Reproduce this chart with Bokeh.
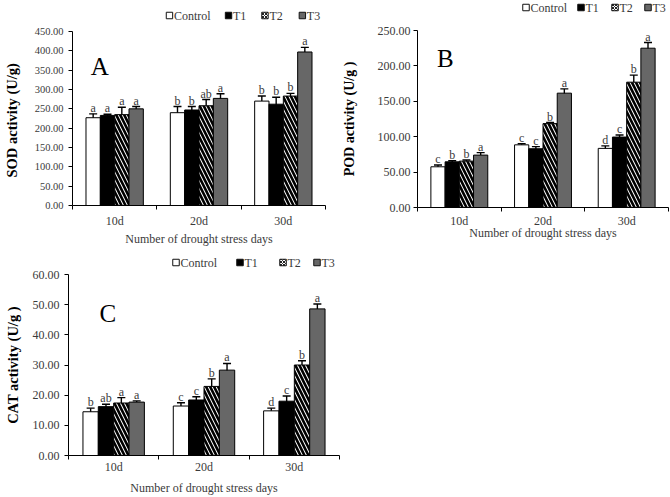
from bokeh.plotting import figure
from bokeh.models import (Range1d, FixedTicker, NumeralTickFormatter, Whisker, TeeHead,
                          ColumnDataSource, Label)
from bokeh.layouts import column, row
from bokeh.core.properties import value
from bokeh.embed import file_html
from bokeh.resources import INLINE

# ---------------- data ----------------
days = ["10d", "20d", "30d"]
treatments = ["Control", "T1", "T2", "T3"]

sod_control = [227, 240, 270]
sod_t1 = [233, 247, 262]
sod_t2 = [235, 258, 283]
sod_t3 = [250, 277, 397]
sod_control_err = [10, 16, 13]
sod_t1_err = [3, 9, 18]
sod_t2_err = [19, 16, 7]
sod_t3_err = [6, 12, 12]
sod_control_sig = ["a", "b", "b"]
sod_t1_sig = ["a", "b", "b"]
sod_t2_sig = ["a", "ab", "b"]
sod_t3_sig = ["a", "a", "a"]
sod_ticks = [0, 50, 100, 150, 200, 250, 300, 350, 400, 450]

pod_control = [57.5, 88.5, 83.5]
pod_t1 = [64.5, 83.0, 99.5]
pod_t2 = [65.5, 118.5, 177.0]
pod_t3 = [74.0, 161.5, 225.0]
pod_control_err = [2.5, 1.5, 3.5]
pod_t1_err = [1.5, 3.0, 3.0]
pod_t2_err = [1.5, 1.5, 10.0]
pod_t3_err = [3.5, 6.0, 8.0]
pod_control_sig = ["c", "c", "d"]
pod_t1_sig = ["b", "c", "c"]
pod_t2_sig = ["b", "b", "b"]
pod_t3_sig = ["a", "a", "a"]
pod_ticks = [0, 50, 100, 150, 200, 250]

cat_control = [14.5, 16.4, 14.8]
cat_t1 = [16.2, 18.4, 18.0]
cat_t2 = [17.4, 22.9, 30.0]
cat_t3 = [17.7, 28.3, 48.6]
cat_control_err = [1.2, 1.1, 0.9]
cat_t1_err = [0.8, 1.1, 1.7]
cat_t2_err = [1.8, 2.5, 1.4]
cat_t3_err = [0.4, 2.2, 1.6]
cat_control_sig = ["b", "c", "d"]
cat_t1_sig = ["ab", "c", "c"]
cat_t2_sig = ["a", "b", "b"]
cat_t3_sig = ["a", "a", "a"]
cat_ticks = [0, 10, 20, 30, 40, 50, 60]

x_title = "Number of drought stress days"

# ---------------- styling ----------------
FONT = "Liberation Serif"
TXT = "#3a3a3a"
BAR_W = 0.17
styles = [
    dict(fill_color="white", hatch_pattern=None),
    dict(fill_color="black", hatch_pattern=None),
    dict(fill_color="white", hatch_pattern="\\", hatch_color="black",
         hatch_weight=2.6, hatch_scale=8),
    dict(fill_color="#676767", hatch_pattern=None),
]
legend_styles = [
    dict(fill_color="white"),
    dict(fill_color="black"),
    dict(fill_color="white", hatch_pattern="x", hatch_color="#222222",
         hatch_weight=1, hatch_scale=3),
    dict(fill_color="#676767"),
]


def bar_kw(k):
    st = styles[k]
    kw = dict(fill_color=st["fill_color"], line_color="black", line_width=1)
    if st["hatch_pattern"]:
        kw.update(hatch_pattern=st["hatch_pattern"], hatch_color=st["hatch_color"],
                  hatch_weight=st["hatch_weight"], hatch_scale=st["hatch_scale"])
    return kw


def legend_strip(W, H, x0, x1, sq_left, yc):
    """A key drawn in a small strip; its frame lines up with the panel's frame,
    so its x range is given in the panel's pixel coordinates."""
    s = figure(width=W, height=H, x_range=Range1d(x0, x1), y_range=Range1d(0, H),
               output_backend="svg", toolbar_location=None,
               x_axis_type=None, y_axis_type=None,
               min_border_left=0, min_border_right=0,
               min_border_top=0, min_border_bottom=0)
    s.outline_line_color = None
    s.background_fill_color = "white"
    s.border_fill_color = "white"
    for k, name in enumerate(treatments):
        xl = sq_left[k]
        s.rect(x=[xl + 3.5], y=[yc], width=6.5, height=6.5,
               line_color="#111111", line_width=1, **legend_styles[k])
        s.text(x=[xl + 8], y=[yc], text=[name], text_align="left",
               text_baseline="middle", text_font=value(FONT),
               text_font_size="12px", text_color=TXT)
    return s


def make_panel(series, errs, sigs, ticks, ylabel, letter, letter_pos, geom):
    (W, H, bl, br, bt, bb, xlab_standoff, xtitle_standoff, ylab_standoff,
     ytitle_standoff, tick_fs, ytitle_fs) = geom
    p = figure(width=W, height=H, x_range=Range1d(0, len(days)),
               y_range=Range1d(ticks[0], ticks[-1]),
               output_backend="svg", toolbar_location=None,
               min_border_left=bl, min_border_right=br,
               min_border_top=bt, min_border_bottom=bb)
    p.outline_line_color = None
    p.grid.visible = False
    p.background_fill_color = "white"
    p.border_fill_color = "white"

    # x axis: labels at category centres, ticks at category boundaries
    xa = p.xaxis[0]
    xa.ticker = FixedTicker(ticks=[i + 0.5 for i in range(len(days))],
                            minor_ticks=list(range(len(days) + 1)))
    xa.major_label_overrides = {i + 0.5: d for i, d in enumerate(days)}
    xa.major_tick_out = 0
    xa.major_tick_in = 0
    xa.minor_tick_out = 4
    xa.minor_tick_in = 0
    xa.minor_tick_line_color = "black"
    xa.axis_line_color = "black"
    xa.major_label_text_font = FONT
    xa.major_label_text_font_size = "12px"
    xa.major_label_text_color = TXT
    xa.major_label_standoff = xlab_standoff
    xa.axis_label = x_title
    xa.axis_label_text_font = FONT
    xa.axis_label_text_font_size = "12px"
    xa.axis_label_text_font_style = "normal"
    xa.axis_label_text_color = TXT
    xa.axis_label_standoff = xtitle_standoff

    ya = p.yaxis[0]
    ya.ticker = FixedTicker(ticks=ticks, minor_ticks=[])
    ya.formatter = NumeralTickFormatter(format="0.00")
    ya.major_tick_out = 4
    ya.major_tick_in = 0
    ya.minor_tick_out = 0
    ya.minor_tick_in = 0
    ya.axis_line_color = "black"
    ya.major_tick_line_color = "black"
    ya.major_label_text_font = FONT
    ya.major_label_text_font_size = tick_fs
    ya.major_label_text_color = TXT
    ya.major_label_standoff = ylab_standoff
    ya.axis_label = ylabel
    ya.axis_label_text_font = FONT
    ya.axis_label_text_font_size = ytitle_fs
    ya.axis_label_text_font_style = "bold"
    ya.axis_label_text_color = "black"
    ya.axis_label_standoff = ytitle_standoff

    for k, name in enumerate(treatments):
        xs = [i + 0.5 + (k - 1.5) * BAR_W for i in range(len(days))]
        vals = series[k]
        e = errs[k]
        src = ColumnDataSource(dict(
            x=xs, top=vals,
            upper=[v + d for v, d in zip(vals, e)],
            lower=[v - d for v, d in zip(vals, e)],
            sig=sigs[k]))
        p.vbar(x="x", top="top", bottom=0, width=BAR_W, source=src, **bar_kw(k))
        w = Whisker(source=src, base="x", upper="upper", lower="lower",
                    line_color="black", line_width=1.4,
                    upper_head=TeeHead(size=8, line_width=1.4, line_color="black"),
                    lower_head=TeeHead(size=8, line_width=1.4, line_color="black"))
        p.add_layout(w)
        p.text(x="x", y="upper", text="sig", source=src, text_align="center",
               text_baseline="alphabetic", y_offset=-6,
               text_font=value(FONT), text_font_size="12px", text_color=TXT)

    p.add_layout(Label(x=letter_pos[0], y=letter_pos[1], text=letter,
                       text_font=FONT, text_font_size="25px", text_color="black",
                       text_baseline="alphabetic"))
    return p


sA = legend_strip(335, 24, 68, 325, [163, 223, 260, 298], 9)
pA = make_panel([sod_control, sod_t1, sod_t2, sod_t3],
                [sod_control_err, sod_t1_err, sod_t2_err, sod_t3_err],
                [sod_control_sig, sod_t1_sig, sod_t2_sig, sod_t3_sig],
                sod_ticks, "SOD  activity (U/g)", "A", (0.215, 360),
                (335, 224, 68, 10, 7, 43, 4, 1, 5, 12, "10.5px", "14.5px"))

sB = legend_strip(335, 22, 82, 333, [187, 242, 276, 309], 15)
pB = make_panel([pod_control, pod_t1, pod_t2, pod_t3],
                [pod_control_err, pod_t1_err, pod_t2_err, pod_t3_err],
                [pod_control_sig, pod_t1_sig, pod_t2_sig, pod_t3_sig],
                pod_ticks, "POD activity (U/g )", "B", (0.233, 210),
                (335, 226, 82, 2, 8, 41, 2, -5, 3, 18, "12px", "14px"))

sC = legend_strip(360, 20, 68, 339, [172, 236, 279, 313], 6)
pC = make_panel([cat_control, cat_t1, cat_t2, cat_t3],
                [cat_control_err, cat_t1_err, cat_t2_err, cat_t3_err],
                [cat_control_sig, cat_t1_sig, cat_t2_sig, cat_t3_sig],
                cat_ticks, "CAT activity (U/g )", "C", (0.343, 47.2),
                (360, 229, 68, 21, 6, 42, 0, 4, 5, 9, "12px", "14.5px"))

layout = column(row(column(sA, pA, spacing=0), column(sB, pB, spacing=0), spacing=0),
                column(sC, pC, spacing=0), spacing=0)

with open("out.html", "w") as f:
    f.write(file_html(layout, INLINE))
